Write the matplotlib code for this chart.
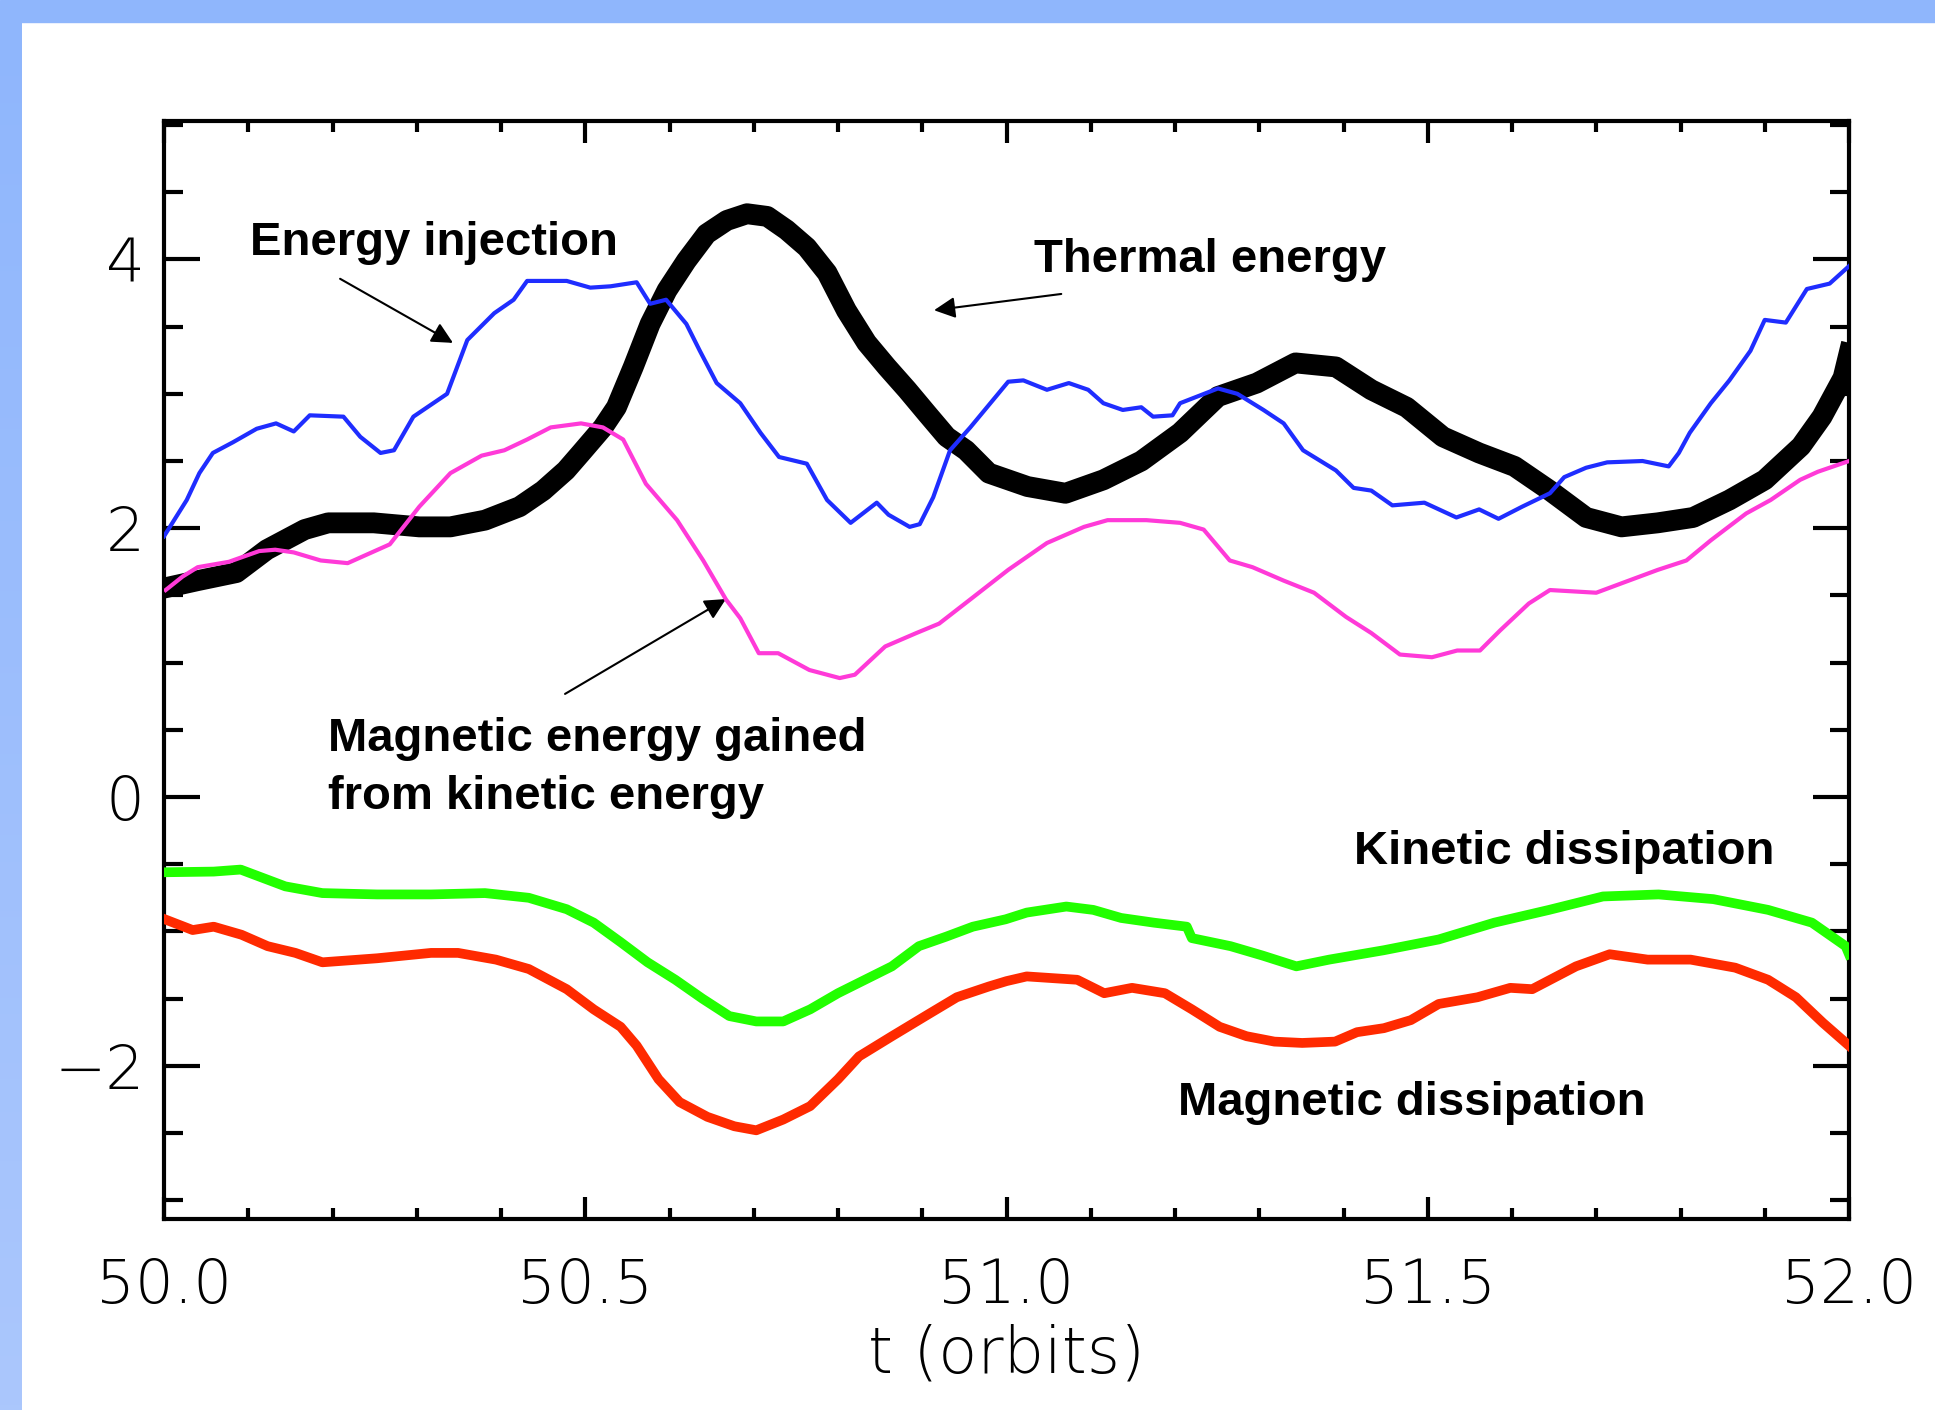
import matplotlib
matplotlib.use("Agg")
import matplotlib.pyplot as plt
import numpy as np
from matplotlib.patches import Rectangle
from matplotlib.ticker import MultipleLocator
from matplotlib.colors import LinearSegmentedColormap

# values (t in orbits)
t_inj = [50.000, 50.027, 50.042, 50.058, 50.082, 50.110, 50.133, 50.154, 50.173, 50.213,
         50.233, 50.257, 50.273, 50.296, 50.336, 50.360, 50.392, 50.415, 50.431, 50.478,
         50.506, 50.530, 50.561, 50.577, 50.596, 50.620, 50.636, 50.656, 50.684, 50.708,
         50.730, 50.763, 50.787, 50.815, 50.846, 50.860, 50.885, 50.897, 50.913, 50.933,
         50.957, 51.002, 51.020, 51.048, 51.074, 51.097, 51.115, 51.138, 51.160, 51.174,
         51.197, 51.206, 51.251, 51.274, 51.305, 51.329, 51.352, 51.391, 51.412, 51.433,
         51.458, 51.496, 51.534, 51.561, 51.584, 51.612, 51.645, 51.662, 51.688, 51.713,
         51.755, 51.786, 51.798, 51.811, 51.836, 51.858, 51.883, 51.900, 51.925, 51.950,
         51.977, 52.000]
e_inj = [1.94, 2.21, 2.41, 2.56, 2.64, 2.74, 2.78, 2.72, 2.84, 2.83,
         2.68, 2.56, 2.58, 2.83, 3.00, 3.40, 3.60, 3.70, 3.84, 3.84,
         3.79, 3.80, 3.83, 3.67, 3.70, 3.52, 3.32, 3.08, 2.93, 2.71,
         2.53, 2.48, 2.21, 2.04, 2.19, 2.10, 2.01, 2.03, 2.23, 2.58,
         2.75, 3.09, 3.10, 3.03, 3.08, 3.03, 2.93, 2.88, 2.90, 2.83,
         2.84, 2.93, 3.04, 3.00, 2.88, 2.78, 2.58, 2.43, 2.30, 2.28,
         2.17, 2.19, 2.08, 2.14, 2.07, 2.16, 2.26, 2.38, 2.45, 2.49,
         2.50, 2.46, 2.56, 2.71, 2.93, 3.10, 3.32, 3.55, 3.53, 3.78,
         3.82, 3.95]

t_mag = [50.002, 50.022, 50.040, 50.077, 50.113, 50.132, 50.154, 50.186, 50.218, 50.268,
         50.303, 50.340, 50.377, 50.404, 50.431, 50.459, 50.495, 50.521, 50.545, 50.572,
         50.609, 50.640, 50.667, 50.684, 50.706, 50.729, 50.766, 50.802, 50.820, 50.856,
         50.893, 50.920, 50.957, 51.002, 51.048, 51.092, 51.120, 51.166, 51.206, 51.234,
         51.265, 51.292, 51.329, 51.365, 51.403, 51.433, 51.467, 51.505, 51.535, 51.562,
         51.586, 51.620, 51.645, 51.700, 51.730, 51.773, 51.807, 51.836, 51.878, 51.907,
         51.942, 51.963, 52.000]
e_mag = [1.54, 1.64, 1.71, 1.75, 1.83, 1.84, 1.82, 1.76, 1.74, 1.88,
         2.16, 2.41, 2.54, 2.58, 2.66, 2.75, 2.78, 2.75, 2.66, 2.33,
         2.06, 1.76, 1.47, 1.33, 1.07, 1.07, 0.945, 0.885, 0.91, 1.12,
         1.22, 1.29, 1.47, 1.69, 1.89, 2.01, 2.06, 2.06, 2.04, 1.99,
         1.76, 1.71, 1.61, 1.52, 1.34, 1.22, 1.06, 1.04, 1.09, 1.09,
         1.24, 1.44, 1.54, 1.52, 1.59, 1.69, 1.76, 1.91, 2.11, 2.21,
         2.36, 2.42, 2.50]

t_th = [50.004, 50.040, 50.086, 50.122, 50.167, 50.195, 50.249, 50.303, 50.340, 50.381,
        50.422, 50.450, 50.477, 50.495, 50.521, 50.537, 50.557, 50.577, 50.597, 50.620,
        50.644, 50.668, 50.692, 50.716, 50.739, 50.763, 50.787, 50.810, 50.834, 50.858,
        50.882, 50.906, 50.929, 50.952, 50.979, 51.025, 51.070, 51.115, 51.160, 51.206,
        51.251, 51.297, 51.343, 51.391, 51.433, 51.475, 51.518, 51.561, 51.603, 51.645,
        51.688, 51.730, 51.773, 51.815, 51.858, 51.900, 51.943, 51.968, 51.993, 52.000]
e_th = [1.56, 1.61, 1.67, 1.84, 1.99, 2.04, 2.04, 2.01, 2.01, 2.06,
        2.16, 2.28, 2.43, 2.56, 2.75, 2.90, 3.20, 3.52, 3.77, 3.99,
        4.19, 4.29, 4.34, 4.32, 4.22, 4.09, 3.90, 3.62, 3.38, 3.20,
        3.03, 2.85, 2.68, 2.58, 2.41, 2.31, 2.26, 2.36, 2.50, 2.71,
        2.98, 3.08, 3.23, 3.20, 3.03, 2.90, 2.68, 2.56, 2.46, 2.28,
        2.08, 2.01, 2.04, 2.08, 2.21, 2.36, 2.61, 2.83, 3.12, 3.30]

t_kin = [50.001, 50.059, 50.091, 50.144, 50.188, 50.253, 50.317, 50.381, 50.433, 50.478,
         50.510, 50.542, 50.574, 50.607, 50.639, 50.671, 50.703, 50.735, 50.767, 50.800,
         50.832, 50.864, 50.896, 50.928, 50.960, 50.999, 51.024, 51.071, 51.103, 51.136,
         51.175, 51.214, 51.220, 51.266, 51.304, 51.344, 51.383, 51.448, 51.513, 51.579,
         51.644, 51.708, 51.774, 51.839, 51.904, 51.956, 51.996, 52.000]
d_kin = [-0.56, -0.555, -0.54, -0.665, -0.715, -0.725, -0.725, -0.715, -0.75, -0.835,
         -0.935, -1.08, -1.23, -1.36, -1.50, -1.63, -1.67, -1.67, -1.58, -1.46,
         -1.36, -1.26, -1.11, -1.04, -0.965, -0.91, -0.86, -0.815, -0.84, -0.90,
         -0.935, -0.965, -1.05, -1.11, -1.18, -1.26, -1.21, -1.14, -1.06, -0.935,
         -0.84, -0.74, -0.725, -0.76, -0.84, -0.935, -1.11, -1.17]

t_mdis = [50.001, 50.034, 50.059, 50.092, 50.123, 50.156, 50.188, 50.253, 50.317, 50.349,
          50.394, 50.433, 50.478, 50.510, 50.542, 50.561, 50.587, 50.612, 50.645, 50.677,
          50.703, 50.735, 50.767, 50.800, 50.825, 50.864, 50.909, 50.941, 50.979, 51.000,
          51.024, 51.084, 51.116, 51.149, 51.188, 51.220, 51.253, 51.285, 51.318, 51.351,
          51.390, 51.416, 51.448, 51.480, 51.513, 51.559, 51.598, 51.624, 51.676, 51.716,
          51.761, 51.812, 51.865, 51.904, 51.937, 51.969, 52.000]
d_mdis = [-0.91, -0.99, -0.965, -1.025, -1.11, -1.16, -1.23, -1.20, -1.16, -1.16,
          -1.21, -1.28, -1.43, -1.58, -1.71, -1.85, -2.10, -2.27, -2.38, -2.45,
          -2.48, -2.40, -2.30, -2.10, -1.93, -1.78, -1.61, -1.49, -1.41, -1.37,
          -1.335, -1.36, -1.46, -1.42, -1.46, -1.58, -1.71, -1.78, -1.82, -1.83,
          -1.82, -1.75, -1.72, -1.66, -1.54, -1.49, -1.42, -1.43, -1.26, -1.17,
          -1.21, -1.21, -1.27, -1.36, -1.49, -1.68, -1.85]

W, H = 1935, 1410
fig = plt.figure(figsize=(W / 100, H / 100), dpi=100)
fig.patch.set_facecolor("white")

# slide frame: light blue band on top, gradient band on the left
fig.patches.append(Rectangle((0, 1 - 22 / H), 1, 22 / H, transform=fig.transFigure,
                             color="#8fb6fc", zorder=0))
bax = fig.add_axes([0, 0, 22 / W, 1 - 22 / H])
grad = np.linspace(0, 1, 256).reshape(-1, 1)
bcmap = LinearSegmentedColormap.from_list("band", ["#8fb6fc", "#abc7fc"])
bax.imshow(grad, aspect="auto", cmap=bcmap)
bax.axis("off")

ax = fig.add_axes([164 / W, (H - 1219) / H, (1849 - 164) / W, (1219 - 121) / H])

ax.plot(t_th, e_th, color="black", lw=15, solid_joinstyle="round", zorder=3)
ax.plot(t_inj, e_inj, color="#1f2dff", lw=3, zorder=4)
ax.plot(t_mag, e_mag, color="#ff3ad8", lw=3, zorder=4)
ax.plot(t_kin, d_kin, color="#22ff00", lw=7, solid_joinstyle="round", zorder=3)
ax.plot(t_mdis, d_mdis, color="#ff2a00", lw=7, solid_joinstyle="round", zorder=3)

ax.set_xlim(50.0, 52.0)
ax.set_ylim(-3.14, 5.03)

for s in ax.spines.values():
    s.set_linewidth(3)

ax.xaxis.set_major_locator(MultipleLocator(0.5))
ax.xaxis.set_minor_locator(MultipleLocator(0.1))
ax.yaxis.set_major_locator(MultipleLocator(2))
ax.yaxis.set_minor_locator(MultipleLocator(0.5))
ax.xaxis.set_major_formatter(matplotlib.ticker.FormatStrFormatter("%.1f"))
ax.yaxis.set_major_formatter(matplotlib.ticker.FuncFormatter(
    lambda v, p: ("\u2212%d" % abs(v)) if v < 0 else "%d" % v))

ax.tick_params(axis="x", which="major", direction="in", top=True, length=16, width=3, pad=27)
ax.tick_params(axis="x", which="minor", direction="in", top=True, length=8, width=3)
ax.tick_params(axis="y", which="major", direction="in", right=True, length=26, width=3, pad=14)
ax.tick_params(axis="y", which="minor", direction="in", right=True, length=14, width=3)

for lab in ax.get_xticklabels() + ax.get_yticklabels():
    lab.set_fontfamily("DejaVu Sans")
    lab.set_fontweight("light")
    lab.set_fontsize(44)
    lab.set_color("black")

ax.set_xlabel("t (orbits)", fontfamily="DejaVu Sans", fontweight="light", fontsize=46,
              color="black", labelpad=6)

lbl = dict(family="Liberation Sans", weight="bold", size=34, color="black", va="baseline", ha="left")
ax.text(50.102, 4.031, "Energy injection", **lbl)
ax.text(51.033, 3.908, "Thermal energy", **lbl)
ax.text(50.195, 0.339, "Magnetic energy gained", **lbl)
ax.text(50.195, -0.092, "from kinetic energy", **lbl)
ax.text(51.412, -0.495, "Kinetic dissipation", **lbl)
ax.text(51.203, -2.367, "Magnetic dissipation", **lbl)

arr = dict(arrowstyle="-|>", color="black", lw=1.5, mutation_scale=32, shrinkA=0, shrinkB=0)
ax.annotate("", xy=(50.343, 3.379), xytext=(50.209, 3.856), arrowprops=arr)
ax.annotate("", xy=(50.914, 3.622), xytext=(51.065, 3.743), arrowprops=arr)
ax.annotate("", xy=(50.667, 1.473), xytext=(50.476, 0.767), arrowprops=arr)

fig.savefig("out.png", dpi=100)
